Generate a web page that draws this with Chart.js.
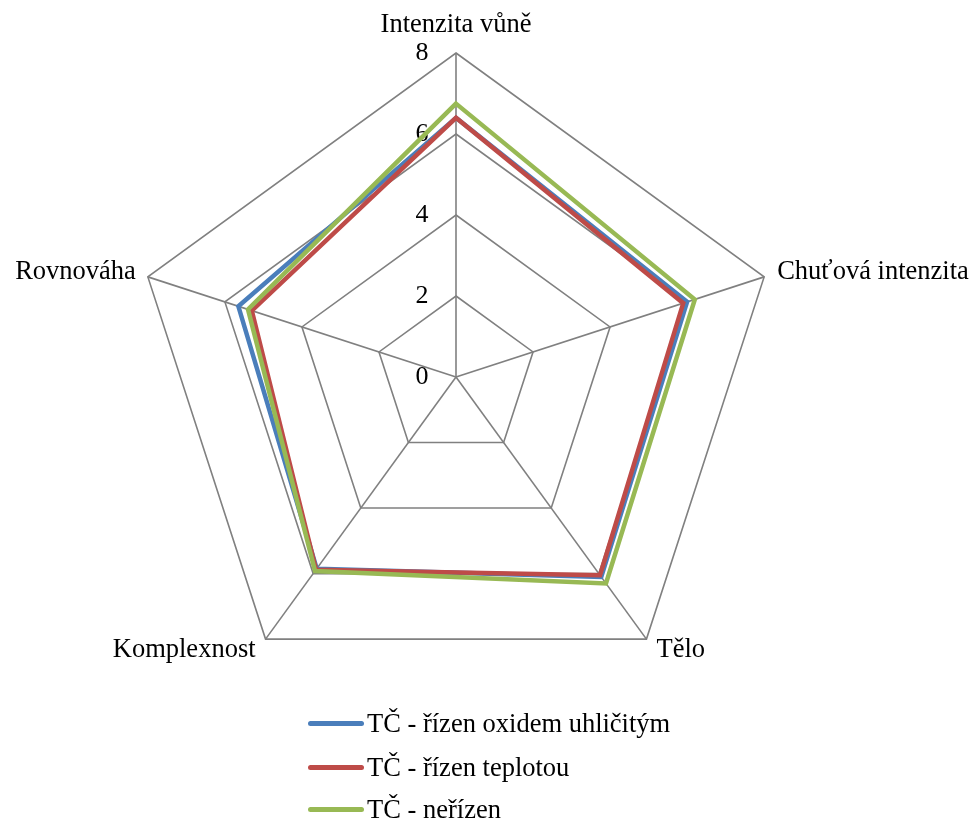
<!DOCTYPE html>
<html>
<head>
<meta charset="utf-8">
<script src="https://cdn.jsdelivr.net/npm/chart.js@4/dist/chart.umd.min.js"></script>
<style>
  html, body { margin: 0; padding: 0; background: #fff; }
  #wrap { position: relative; width: 976px; height: 820px; }
  #legend { position: absolute; left: 308px; top: 700px; font-family: "Liberation Serif", "Times New Roman", serif; font-size: 26.5px; color: #000; }
  .item { position: absolute; left: 0; white-space: nowrap; height: 30px; line-height: 30px; }
  .swatch { position: absolute; left: 0; top: 13px; width: 56px; height: 5px; border-radius: 3px; }
  .lbl { position: absolute; left: 59px; top: 0; }
</style>
</head>
<body>
<div id="wrap">
  <canvas id="c" width="976" height="820"></canvas>
  <div id="legend"></div>
</div>
<script>
const categories = ["Intenzita vůně", "Chuťová intenzita", "Tělo", "Komplexnost", "Rovnováha"];
const seriesNames = ["TČ - řízen oxidem uhličitým", "TČ - řízen teplotou", "TČ - neřízen"];
const co2Values = [6.4, 6.0, 6.1, 5.85, 5.65];
const tempValues = [6.4, 5.9, 6.05, 5.88, 5.3];
const noneValues = [6.75, 6.2, 6.3, 5.92, 5.4];
const tickValues = [0, 2, 4, 6, 8];

const colors = ["#4A7EBB", "#BE4B48", "#98B954"];
const FONT = '26.5px "Liberation Serif", "Times New Roman", serif';
const TICK_FONT = '26px "Liberation Serif", "Times New Roman", serif';

// Fixed geometry of the web
const CX = 456, CY = 377, R = 324;

// Category label placement relative to the outer vertex of each axis
const labelOffsets = [
  { dx: 0, dy: -28, align: "center" },
  { dx: 13, dy: -5, align: "left" },
  { dx: 10, dy: 11, align: "left" },
  { dx: -10, dy: 11, align: "right" },
  { dx: -12, dy: -5, align: "right" }
];

const labelsPlugin = {
  id: "webLabels",
  beforeDatasetsDraw(chart) {
    const scale = chart.scales.r;
    const ctx = chart.ctx;
    ctx.save();
    ctx.fillStyle = "#000";
    ctx.textBaseline = "middle";
    // tick values, left of the vertical axis
    ctx.font = TICK_FONT;
    ctx.textAlign = "center";
    tickValues.forEach(v => {
      const d = scale.getDistanceFromCenterForValue(v);
      ctx.fillText(String(v), scale.xCenter - 34, scale.yCenter - d);
    });
    // category labels
    ctx.font = FONT;
    categories.forEach((name, i) => {
      const p = scale.getPointPosition(i, scale.drawingArea);
      const o = labelOffsets[i];
      ctx.textAlign = o.align;
      ctx.fillText(name, p.x + o.dx, p.y + o.dy);
    });
    ctx.restore();
  }
};

const seriesData = [co2Values, tempValues, noneValues];
const orders = [2, 1, 0];

new Chart(document.getElementById("c"), {
  type: "radar",
  data: {
    labels: categories,
    datasets: seriesNames.map((name, i) => ({
      label: name,
      data: seriesData[i],
      borderColor: colors[i],
      backgroundColor: "transparent",
      borderWidth: 4.5,
      pointRadius: 0,
      pointHoverRadius: 0,
      fill: false,
      tension: 0,
      order: orders[i]
    }))
  },
  options: {
    responsive: false,
    animation: false,
    plugins: { legend: { display: false }, tooltip: { enabled: false } },
    scales: {
      r: {
        min: 0,
        max: 8,
        ticks: { stepSize: 2, display: false },
        grid: { color: "#808080", lineWidth: 1.6 },
        angleLines: { color: "#808080", lineWidth: 1.6 },
        pointLabels: { display: false },
        afterFit(scale) {
          scale.xCenter = CX;
          scale.yCenter = CY;
          scale.drawingArea = R;
        }
      }
    }
  },
  plugins: [labelsPlugin]
});

// legend
const legend = document.getElementById("legend");
const legendTops = [8, 52, 94];
seriesNames.forEach((name, i) => {
  const item = document.createElement("div");
  item.className = "item";
  item.style.top = legendTops[i] + "px";
  const sw = document.createElement("div");
  sw.className = "swatch";
  sw.style.background = colors[i];
  const lb = document.createElement("span");
  lb.className = "lbl";
  lb.textContent = name;
  item.appendChild(sw);
  item.appendChild(lb);
  legend.appendChild(item);
});
</script>
</body>
</html>
